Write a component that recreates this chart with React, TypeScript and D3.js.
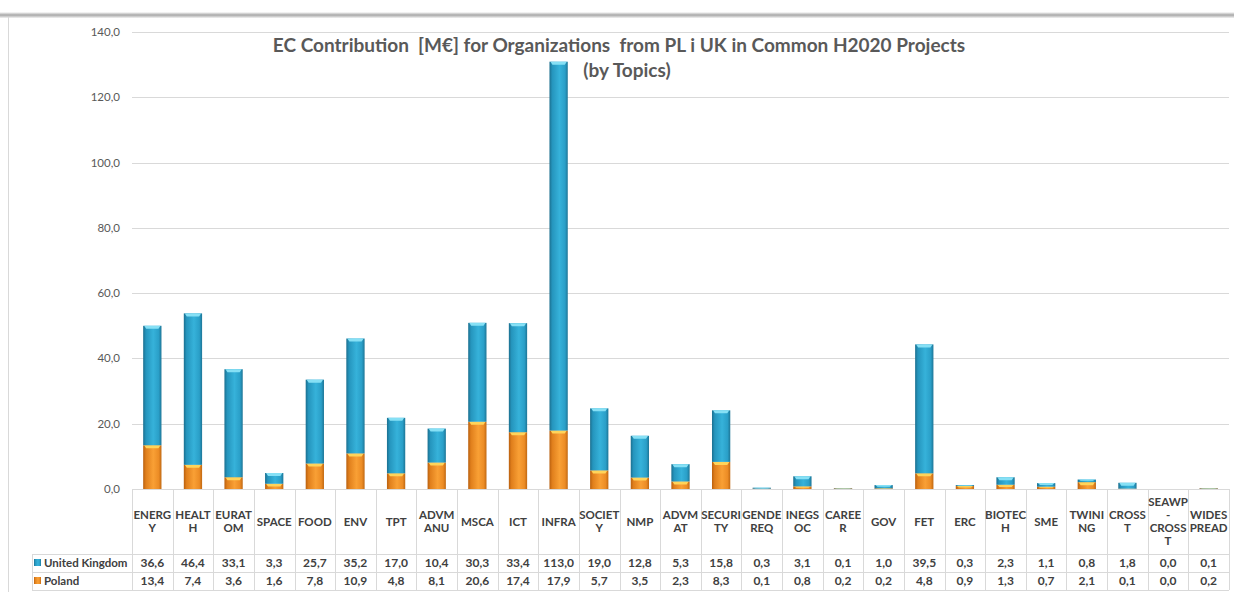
import React from 'react'
import * as d3 from 'd3'

const categories = [
	'ENERG\nY', 'HEALT\nH', 'EURAT\nOM', 'SPACE', 'FOOD', 'ENV', 'TPT', 'ADVM\nANU', 'MSCA', 'ICT',
	'INFRA', 'SOCIET\nY', 'NMP', 'ADVM\nAT', 'SECURI\nTY', 'GENDE\nREQ', 'INEGS\nOC', 'CAREE\nR', 'GOV', 'FET',
	'ERC', 'BIOTEC\nH', 'SME', 'TWINI\nNG', 'CROSS\nT', 'SEAWP\n-\nCROSS\nT', 'WIDES\nPREAD'
]

const unitedKingdom = [36.6, 46.4, 33.1, 3.3, 25.7, 35.2, 17.0, 10.4, 30.3, 33.4, 113.0, 19.0, 12.8, 5.3, 15.8, 0.3, 3.1, 0.1, 1.0, 39.5, 0.3, 2.3, 1.1, 0.8, 1.8, 0.0, 0.1]
const poland = [13.4, 7.4, 3.6, 1.6, 7.8, 10.9, 4.8, 8.1, 20.6, 17.4, 17.9, 5.7, 3.5, 2.3, 8.3, 0.1, 0.8, 0.2, 0.2, 4.8, 0.9, 1.3, 0.7, 2.1, 0.1, 0.0, 0.2]

const yTicks = [0, 20, 40, 60, 80, 100, 120, 140]

const seriesNames = ['Poland', 'United Kingdom']

const width = 1234
const height = 592
const plot = { left: 132, right: 1229, top: 32, bottom: 489 }
const rows = { header: 554, uk: 572, pl: 590, labelLeft: 32 }

const fmt = (v: number) => v.toFixed(1).replace('.', ',')

const font = 'Lato, "Open Sans", sans-serif'

export default function App() {
	const x = d3.scaleBand().domain(categories).range([plot.left, plot.right])
	const y = d3.scaleLinear().domain([0, 140]).range([plot.bottom, plot.top])

	const table = categories.map((c, i) => ({ cat: c, 'Poland': poland[i], 'United Kingdom': unitedKingdom[i] }))
	const stacked = d3.stack<any>().keys(seriesNames)(table)

	const bw = x.bandwidth() * 0.45
	const fills: Record<string, string> = { 'Poland': 'url(#gOrange)', 'United Kingdom': 'url(#gBlue)' }
	const caps: Record<string, string> = { 'Poland': '#ffd45a', 'United Kingdom': '#86e0f5' }

	const bounds = categories.map(c => x(c) as number).concat([plot.right])

	return (
		<svg width={width} height={height} style={{ display: 'block', position: 'absolute', left: 0, top: 0 }}>
			<defs>
				<linearGradient id="gBlue" x1="0" x2="1" y1="0" y2="0">
					<stop offset="0" stopColor="#1b6f8f" />
					<stop offset="0.15" stopColor="#2595bd" />
					<stop offset="0.55" stopColor="#36b2da" />
					<stop offset="0.85" stopColor="#2a9fc8" />
					<stop offset="1" stopColor="#1d7596" />
				</linearGradient>
				<linearGradient id="gOrange" x1="0" x2="1" y1="0" y2="0">
					<stop offset="0" stopColor="#b9600f" />
					<stop offset="0.15" stopColor="#e07f1c" />
					<stop offset="0.55" stopColor="#f9a035" />
					<stop offset="0.85" stopColor="#ec8c25" />
					<stop offset="1" stopColor="#c06812" />
				</linearGradient>
				<linearGradient id="shadow" x1="0" x2="0" y1="0" y2="1">
					<stop offset="0" stopColor="#ffffff" />
					<stop offset="0.5" stopColor="#a8a8a8" />
					<stop offset="1" stopColor="#f2f2f2" />
				</linearGradient>
			</defs>
			<rect x={0} y={0} width={width} height={height} fill="#fff" />
			<rect x={0} y={12} width={width} height={6} fill="url(#shadow)" />
			<line x1={8.5} x2={8.5} y1={17} y2={height} stroke="#d9d9d9" />

			{yTicks.map(t => (
				<g key={t}>
					<line x1={plot.left} x2={plot.right} y1={Math.round(y(t)) + 0.5} y2={Math.round(y(t)) + 0.5} stroke="#d9d9d9" />
					<text x={120} y={y(t) + 4} textAnchor="end" fontSize={11.5} fill="#595959" fontFamily={font}>{fmt(t)}</text>
				</g>
			))}

			<text x={619} y={52} textAnchor="middle" fontSize={19} fontWeight="bold" fill="#595959" fontFamily={font} style={{ whiteSpace: 'pre' }}>
				{'EC Contribution  [M€] for Organizations  from PL i UK in Common H2020 Projects'}
			</text>
			<text x={627} y={77} textAnchor="middle" fontSize={19} fontWeight="bold" fill="#595959" fontFamily={font}>(by Topics)</text>

			{stacked.map(s => (
				<g key={s.key}>
					{s.map((d, i) => {
						const x0 = (x(categories[i]) as number) + (x.bandwidth() - bw) / 2
						const y0 = y(d[1])
						const h = Math.max(y(d[0]) - y(d[1]), 0)
						if (h <= 0) return null
						const cap = Math.min(3, h / 2)
						return (
							<g key={i}>
								<rect x={x0} y={y0} width={bw} height={h} fill={fills[s.key]} />
								<path d={`M${x0 + 1},${y0} L${x0 + bw - 1},${y0} L${x0 + bw - 3},${y0 + cap} L${x0 + 3},${y0 + cap} Z`} fill={caps[s.key]} />
							</g>
						)
					})}
				</g>
			))}

			{/* data table */}
			<line x1={plot.left} x2={plot.right} y1={plot.bottom + 0.5} y2={plot.bottom + 0.5} stroke="#d9d9d9" />
			{[rows.header, rows.uk, rows.pl].map(r => (
				<line key={r} x1={rows.labelLeft} x2={plot.right} y1={r + 0.5} y2={r + 0.5} stroke="#d9d9d9" />
			))}
			<line x1={rows.labelLeft + 0.5} x2={rows.labelLeft + 0.5} y1={rows.header} y2={rows.pl} stroke="#d9d9d9" />
			{bounds.map((b, i) => (
				<line key={i} x1={Math.round(b) + 0.5} x2={Math.round(b) + 0.5} y1={plot.bottom} y2={rows.pl} stroke="#d9d9d9" />
			))}

			{categories.map(c => {
				const lines = c.split('\n')
				const cx = (x(c) as number) + x.bandwidth() / 2
				const lh = 13
				const startY = (plot.bottom + rows.header) / 2 - ((lines.length - 1) * lh) / 2 + 4
				return (
					<text key={c} textAnchor="middle" fontSize={11.5} fontWeight="bold" fill="#404040" fontFamily={font}>
						{lines.map((l, j) => <tspan key={j} x={cx} y={startY + j * lh}>{l}</tspan>)}
					</text>
				)
			})}

			{categories.map((c, i) => {
				const cx = (x(c) as number) + x.bandwidth() / 2
				return (
					<g key={c} fontSize={12} fontWeight="bold" fill="#404040" fontFamily={font} textAnchor="middle">
						<text x={cx} y={rows.header + 13}>{fmt(unitedKingdom[i])}</text>
						<text x={cx} y={rows.uk + 13}>{fmt(poland[i])}</text>
					</g>
				)
			})}

			<rect x={34} y={559} width={7} height={7} fill="url(#gBlue)" />
			<text x={44} y={rows.header + 13} fontSize={11.5} fontWeight="bold" fill="#404040" fontFamily={font}>United Kingdom</text>
			<rect x={34} y={577} width={7} height={7} fill="url(#gOrange)" />
			<text x={44} y={rows.uk + 13} fontSize={11.5} fontWeight="bold" fill="#404040" fontFamily={font}>Poland</text>
		</svg>
	)
}
